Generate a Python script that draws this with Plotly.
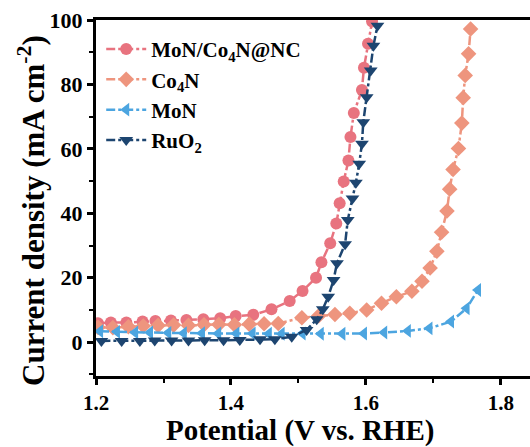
import plotly.graph_objects as go

# MoN/Co4N@NC
v_mc = [1.203, 1.222, 1.245, 1.269, 1.288, 1.311, 1.334, 1.359, 1.384, 1.407, 1.433, 1.460, 1.487,
        1.506, 1.526, 1.534, 1.547, 1.556, 1.561, 1.567, 1.574, 1.577, 1.582, 1.594, 1.597, 1.603, 1.609]
j_mc = [5.9, 6.1, 6.1, 6.4, 6.6, 6.7, 6.9, 7.1, 7.4, 8.1, 8.5, 10.2, 12.8,
        15.9, 20.0, 24.8, 30.7, 36.8, 43.1, 49.9, 56.4, 63.7, 71.1, 78.3, 85.2, 92.6, 99.5]

# Co4N
v_co = [1.203, 1.225, 1.248, 1.270, 1.292, 1.315, 1.337, 1.360, 1.382, 1.405, 1.427, 1.449, 1.470,
        1.505, 1.530, 1.554, 1.576, 1.601, 1.623, 1.645, 1.668, 1.683, 1.695, 1.705, 1.712, 1.720,
        1.724, 1.729, 1.737, 1.742, 1.744, 1.747, 1.752, 1.755]
j_co = [4.6, 4.5, 4.8, 5.0, 5.2, 5.3, 5.2, 5.4, 5.5, 5.4, 5.6, 5.7, 5.8,
        7.6, 8.2, 8.6, 9.0, 10.0, 12.1, 14.1, 15.8, 18.9, 23.0, 28.2, 34.1, 40.7,
        47.5, 53.6, 60.1, 68.0, 75.9, 82.8, 89.5, 97.2]

# MoN
v_mon = [1.206, 1.231, 1.258, 1.280, 1.307, 1.330, 1.357, 1.381, 1.408, 1.432, 1.456, 1.475, 1.506,
         1.533, 1.565, 1.597, 1.627, 1.662, 1.694, 1.726, 1.749, 1.766]
j_mon = [3.4, 3.2, 3.0, 3.0, 2.9, 2.8, 2.8, 2.7, 2.7, 2.7, 2.6, 2.6, 2.7,
         2.6, 2.6, 2.7, 3.0, 3.5, 4.3, 6.4, 10.5, 16.2]

# RuO2
v_ru = [1.208, 1.238, 1.265, 1.287, 1.312, 1.337, 1.361, 1.389, 1.413, 1.443, 1.465, 1.490, 1.512,
        1.527, 1.536, 1.544, 1.552, 1.557, 1.569, 1.573, 1.580, 1.585, 1.590, 1.594, 1.596, 1.601,
        1.607, 1.611, 1.617]
j_ru = [0.4, 0.4, 0.4, 0.5, 0.5, 0.5, 0.6, 0.6, 0.7, 0.9, 0.9, 1.7, 3.8,
        7.1, 10.2, 14.1, 19.3, 24.5, 30.4, 37.9, 44.6, 49.5, 55.4, 61.6, 68.3, 76.0,
        84.3, 92.0, 98.2]

names = ["MoN/Co<sub>4</sub>N@NC", "Co<sub>4</sub>N", "MoN", "RuO<sub>2</sub>"]
colors = ["#E8737F", "#EE957E", "#4CA5E0", "#1D4570"]
symbols = ["circle", "diamond", "triangle-left", "triangle-down"]
sizes = [12, 12, 12, 12]
series = [(v_mc, j_mc), (v_co, j_co), (v_mon, j_mon), (v_ru, j_ru)]

x_title = "Potential (V vs. RHE)"
y_title = "Current density (mA cm<sup>-2</sup>)"

font_fam = "Liberation Serif"

fig = go.Figure()
for (vx, jy), nm, c, s, sz in zip(series, names, colors, symbols, sizes):
    fig.add_trace(go.Scatter(
        x=vx, y=jy, name=nm, mode="lines+markers",
        line=dict(color=c, width=2.5, dash="dashdot"),
        marker=dict(color=c, symbol=s, size=sz, line=dict(width=0)),
        cliponaxis=True,
    ))

W, H = 530, 447
fig.update_layout(
    width=W, height=H,
    margin=dict(l=96, r=0, t=20, b=71),
    plot_bgcolor="white", paper_bgcolor="white",
    font=dict(family=font_fam, color="black"),
    showlegend=True,
    legend=dict(
        x=0.012, y=0.975, xanchor="left", yanchor="top",
        bgcolor="rgba(0,0,0,0)", borderwidth=0,
        font=dict(family=font_fam, size=21, color="black", weight="bold"),
        tracegroupgap=0, itemwidth=40,
    ),
    xaxis=dict(
        range=[1.2, 1.843],
        tickvals=[1.2, 1.4, 1.6, 1.8], ticktext=["1.2", "1.4", "1.6", "1.8"],
        showgrid=False, zeroline=False,
        showline=True, linecolor="black", linewidth=3, mirror=True,
        ticks="outside", ticklen=6, tickwidth=2.5, tickcolor="black",
        minor=dict(tickvals=[1.3, 1.5, 1.7], ticks="outside", ticklen=4, tickwidth=2, tickcolor="black"),
        tickfont=dict(family=font_fam, size=21, color="black", weight="bold"),
    ),
    yaxis=dict(
        range=[-10.5, 100],
        tickvals=[0, 20, 40, 60, 80, 100],
        showgrid=False, zeroline=False,
        showline=True, linecolor="black", linewidth=3, mirror=False,
        ticks="outside", ticklen=6, tickwidth=2.5, tickcolor="black",
        minor=dict(tickvals=[-10, 10, 30, 50, 70, 90], ticks="outside", ticklen=4, tickwidth=2, tickcolor="black"),
        tickfont=dict(family=font_fam, size=22, color="black", weight="bold"),
    ),
    annotations=[
        dict(text=x_title, xref="paper", yref="paper",
             x=(300 - 96) / 434, y=-(430 - 376) / 356, xanchor="center", yanchor="middle",
             showarrow=False, font=dict(family=font_fam, size=29, color="black", weight="bold")),
        dict(text=y_title, xref="paper", yref="paper", textangle=-90,
             x=-(96 - 32) / 434, y=(376 - 211) / 356, xanchor="center", yanchor="middle",
             showarrow=False, font=dict(family=font_fam, size=31, color="black", weight="bold")),
    ],
)

fig.write_html("out.html")
